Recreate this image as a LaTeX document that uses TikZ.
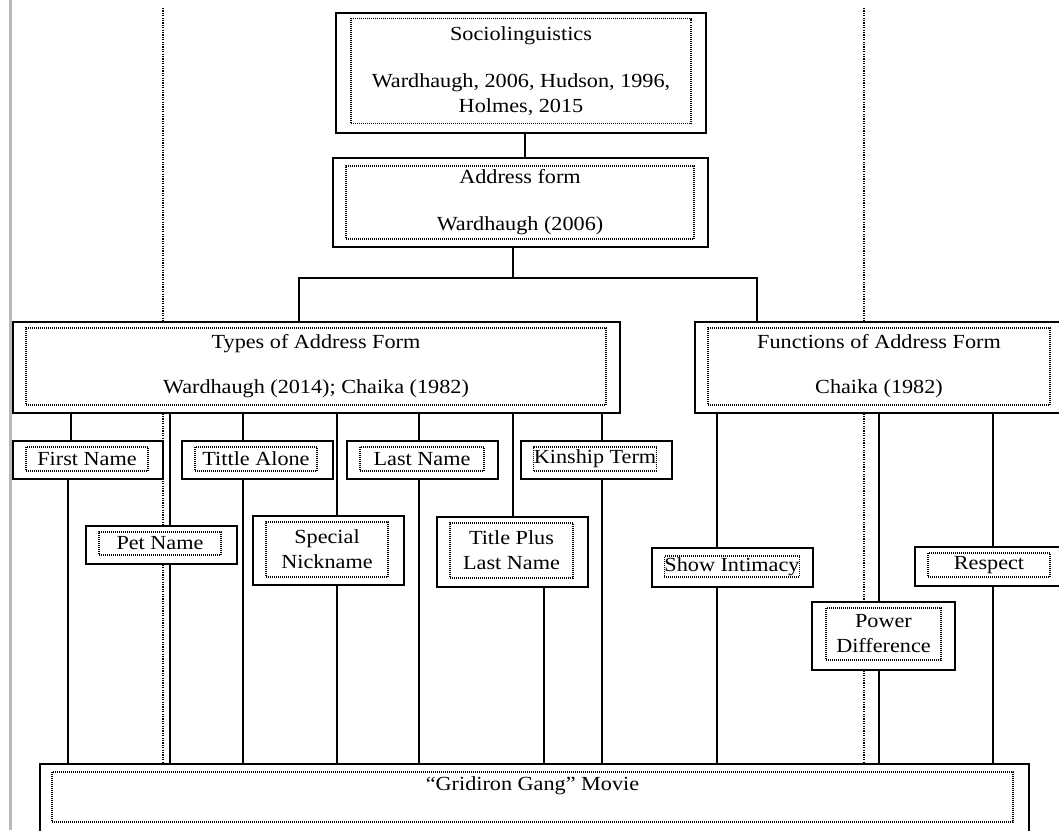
\documentclass[tikz,border=0pt]{standalone}
\usepackage{fontspec}
\setmainfont{Liberation Serif}[FakeStretch=1.11]
\begin{document}
\begin{tikzpicture}[x=1pt,y=-1pt,
	outbox/.style={draw, line width=1.7pt, fill=white, inner sep=0pt},
	inbox/.style={draw, line width=1.1pt, dash pattern=on 1pt off 1pt, inner sep=0pt, align=center, font=\fontsize{20}{25}\selectfont},
	link/.style={line width=1.6pt},
	guide/.style={line width=1.1pt, dash pattern=on 1.2pt off 1.2pt}]
	\useasboundingbox (0,0) rectangle (1059,830);
	% page edge and column guides
	\draw[gray!55, line width=3pt] (10,0) -- (10,830);
	\draw[guide] (163,8) -- (163,764);
	\draw[guide] (864,8) -- (864,764);
	% top boxes
	\node[outbox, minimum width=370pt, minimum height=120pt] (soc) at (521,73) {};
	\node[inbox, minimum width=340pt, minimum height=105pt] (soc-in) at (521,71) {Sociolinguistics\\[22pt]Wardhaugh, 2006, Hudson, 1996,\\Holmes, 2015};
	\node[outbox, minimum width=375pt, minimum height=89pt] (addr) at (520.5,202.5) {};
	\node[inbox, minimum width=348pt, minimum height=73pt] (addr-in) at (520,202.5) {Address form\\[22pt]Wardhaugh (2006)};
	\node[outbox, minimum width=607pt, minimum height=91pt] (types) at (316.5,367.5) {};
	\node[inbox, minimum width=580pt, minimum height=77pt] (types-in) at (316,366.5) {Types of Address Form\\[20pt]Wardhaugh (2014); Chaika (1982)};
	\node[outbox, minimum width=369pt, minimum height=91pt] (funcs) at (879.5,367.5) {};
	\node[inbox, minimum width=342pt, minimum height=77pt] (funcs-in) at (879,366.5) {Functions of Address Form\\[20pt]Chaika (1982)};
	% types
	\node[outbox, minimum width=150pt, minimum height=38pt] (fname) at (88,460) {};
	\node[inbox, minimum width=122pt, minimum height=24pt] (fname-in) at (87,459) {First Name};
	\node[outbox, minimum width=151pt, minimum height=38pt] (talone) at (257.5,460) {};
	\node[inbox, minimum width=122pt, minimum height=24pt] (talone-in) at (256,459) {Tittle Alone};
	\node[outbox, minimum width=151pt, minimum height=38pt] (lname) at (422.5,460) {};
	\node[inbox, minimum width=124pt, minimum height=24pt] (lname-in) at (422,459) {Last Name};
	\node[outbox, minimum width=151pt, minimum height=38pt] (kin) at (596.5,460) {};
	\node[inbox, minimum width=122pt, minimum height=24pt] (kin-in) at (595,459) {Kinship Term};
	\node[outbox, minimum width=151pt, minimum height=38pt] (pet) at (161.5,545) {};
	\node[inbox, minimum width=122pt, minimum height=23pt] (pet-in) at (160,543.5) {Pet Name};
	\node[outbox, minimum width=151pt, minimum height=69pt] (spec) at (328.5,550.5) {};
	\node[inbox, minimum width=122pt, minimum height=55pt] (spec-in) at (327,549.5) {Special\\Nickname};
	\node[outbox, minimum width=151pt, minimum height=70pt] (tplus) at (512.5,552) {};
	\node[inbox, minimum width=123pt, minimum height=55pt] (tplus-in) at (511.5,550.5) {Title Plus\\Last Name};
	% functions
	\node[outbox, minimum width=161pt, minimum height=39pt] (intim) at (732.5,567.5) {};
	\node[inbox, minimum width=134pt, minimum height=21pt] (intim-in) at (732,566.5) {Show Intimacy};
	\node[outbox, minimum width=143pt, minimum height=68pt] (power) at (883.5,636) {};
	\node[inbox, minimum width=115pt, minimum height=52pt] (power-in) at (883.5,634) {Power\\Difference};
	\node[outbox, minimum width=149pt, minimum height=39pt] (resp) at (989.5,566.5) {};
	\node[inbox, minimum width=122pt, minimum height=24pt] (resp-in) at (989,565) {Respect};
	% movie
	\node[outbox, minimum width=989pt, minimum height=76pt] (movie) at (534.5,802) {};
	\node[inbox, minimum width=961pt, minimum height=50pt, text height=18pt, text depth=32pt] (movie-in) at (532.5,797) {“Gridiron Gang” Movie};
	% links
	\coordinate (jl) at (299,278);
	\coordinate (jr) at (757,278);
	\draw[link] ([xshift=4pt]soc.south) -- ([xshift=4pt]soc.south |- addr.north);
	\draw[link] ([xshift=-7.5pt]addr.south) -- ([xshift=-7.5pt]addr.south |- jl);
	\draw[link] (jl |- types.north) -- (jl) -- (jr) -- (jr |- funcs.north);
	\draw[link] ([xshift=-17pt]fname.north) -- ([xshift=-17pt]fname.north |- types.south);
	\draw[link] ([xshift=-20pt]fname.south) -- ([xshift=-20pt]fname.south |- movie.north);
	\draw[link] ([xshift=8.5pt]pet.north) -- ([xshift=8.5pt]pet.north |- types.south);
	\draw[link] ([xshift=8.5pt]pet.south) -- ([xshift=8.5pt]pet.south |- movie.north);
	\draw[link] ([xshift=-14.5pt]talone.north) -- ([xshift=-14.5pt]talone.north |- types.south);
	\draw[link] ([xshift=-14.5pt]talone.south) -- ([xshift=-14.5pt]talone.south |- movie.north);
	\draw[link] ([xshift=8.5pt]spec.north) -- ([xshift=8.5pt]spec.north |- types.south);
	\draw[link] ([xshift=8.5pt]spec.south) -- ([xshift=8.5pt]spec.south |- movie.north);
	\draw[link] ([xshift=-3.5pt]lname.north) -- ([xshift=-3.5pt]lname.north |- types.south);
	\draw[link] ([xshift=-3.5pt]lname.south) -- ([xshift=-3.5pt]lname.south |- movie.north);
	\draw[link] ([xshift=0.5pt]tplus.north) -- ([xshift=0.5pt]tplus.north |- types.south);
	\draw[link] ([xshift=31.5pt]tplus.south) -- ([xshift=31.5pt]tplus.south |- movie.north);
	\draw[link] ([xshift=5.5pt]kin.north) -- ([xshift=5.5pt]kin.north |- types.south);
	\draw[link] ([xshift=5.5pt]kin.south) -- ([xshift=5.5pt]kin.south |- movie.north);
	\draw[link] ([xshift=-15.5pt]intim.north) -- ([xshift=-15.5pt]intim.north |- funcs.south);
	\draw[link] ([xshift=-15.5pt]intim.south) -- ([xshift=-15.5pt]intim.south |- movie.north);
	\draw[link] ([xshift=-4.5pt]power.north) -- ([xshift=-4.5pt]power.north |- funcs.south);
	\draw[link] ([xshift=-4.5pt]power.south) -- ([xshift=-4.5pt]power.south |- movie.north);
	\draw[link] ([xshift=3.5pt]resp.north) -- ([xshift=3.5pt]resp.north |- funcs.south);
	\draw[link] ([xshift=3.5pt]resp.south) -- ([xshift=3.5pt]resp.south |- movie.north);
\end{tikzpicture}
\end{document}
